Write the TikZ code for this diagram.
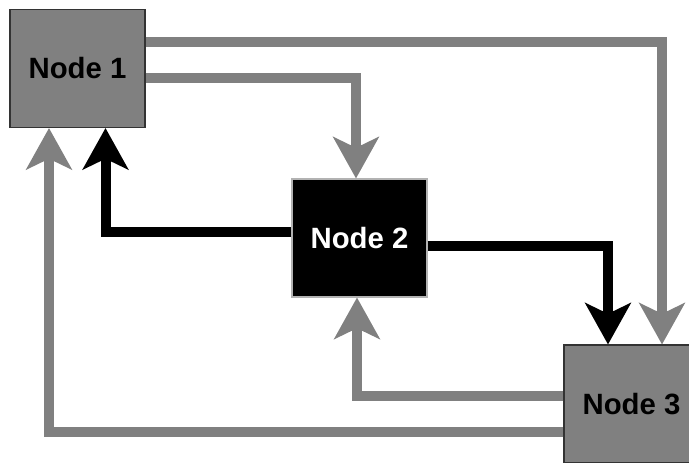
\documentclass[tikz,border=0pt]{standalone}
\usepackage{fontspec}
\setmainfont{Liberation Sans}
\usetikzlibrary{arrows.meta,calc}

\begin{document}
\begin{tikzpicture}[x=0.75pt,y=-0.75pt,
  box/.style={draw=black!80,line width=0.8pt,minimum width=101.25pt,minimum height=88.5pt,
    font=\fontsize{22}{26}\selectfont\bfseries,inner sep=0pt},
  grayline/.style={draw=gray,line width=6.8pt,-{Stealth[length=31pt,width=34pt,inset=8pt]}},
  blackline/.style={draw=black,line width=7.5pt,-{Stealth[length=31pt,width=34pt,inset=8pt]}}]

\clip (0,0) rectangle (689,462);

% nodes:
\node[box,fill=gray,text=black] (n1) at (77.5,68.5) {Node 1};
\node[box,fill=black,draw=gray!60,text=white] (n2) at (359.5,238) {Node 2};
\node[box,fill=gray,text=black] (n3) at (631.5,404) {Node 3};

% connectors:
\draw[grayline] ($(n1.east)+(0,-26.5)$) -| ($(n3.north)+(30.5,0)$);
\draw[grayline] ($(n1.east)+(0,9.5)$) -| ($(n2.north)+(-3.5,0)$);
\draw[blackline] ($(n2.west)+(0,-6)$) -| ($(n1.south)+(28,0)$);
\draw[blackline] ($(n2.east)+(0,8)$) -| ($(n3.north)+(-23.5,0)$);
\draw[grayline] ($(n3.west)+(0,-8)$) -| ($(n2.south)+(-2.5,0)$);
\draw[grayline] ($(n3.west)+(0,28)$) -| ($(n1.south)+(-28.5,0)$);

\end{tikzpicture}
\end{document}
